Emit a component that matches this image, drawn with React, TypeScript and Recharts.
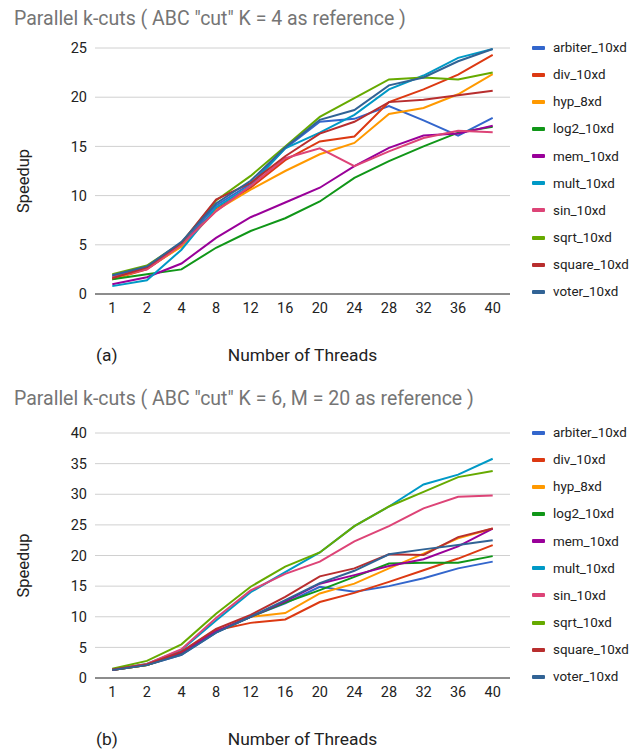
import React from 'react';
import { LineChart, Line, XAxis, YAxis, CartesianGrid, Legend } from 'recharts';

const threads = ['1', '2', '4', '8', '12', '16', '20', '24', '28', '32', '36', '40'];
const seriesNames = ['arbiter_10xd', 'div_10xd', 'hyp_8xd', 'log2_10xd', 'mem_10xd', 'mult_10xd', 'sin_10xd', 'sqrt_10xd', 'square_10xd', 'voter_10xd'];
const colors = ['#3366cc', '#dc3912', '#ff9900', '#109618', '#990099', '#0099c6', '#dd4477', '#66aa00', '#b82e2e', '#316395'];

const ticksA = [0, 5, 10, 15, 20, 25];
const ticksB = [0, 5, 10, 15, 20, 25, 30, 35, 40];

// Chart (a): K = 4
const arbiterA = [1.8, 2.7, 5.0, 9.0, 11.2, 14.8, 17.5, 17.8, 19.1, 17.65, 16.1, 17.9];
const divA = [1.5, 2.5, 4.9, 8.6, 10.8, 13.6, 15.5, 16.0, 19.5, 20.8, 22.3, 24.3];
const hypA = [1.5, 2.6, 4.8, 8.5, 10.6, 12.5, 14.2, 15.35, 18.3, 18.9, 20.3, 22.35];
const log2A = [1.5, 2.0, 2.5, 4.7, 6.4, 7.7, 9.4, 11.8, 13.5, 15.0, 16.4, 17.0];
const memA = [1.0, 1.7, 3.1, 5.7, 7.8, 9.3, 10.8, 13.0, 14.85, 16.1, 16.3, 17.1];
const multA = [0.8, 1.4, 4.5, 8.8, 11.0, 14.8, 16.4, 18.2, 20.8, 22.2, 24.0, 24.9];
const sinA = [1.7, 2.5, 5.0, 8.4, 11.0, 13.8, 14.8, 13.0, 14.5, 15.85, 16.6, 16.45];
const sqrtA = [2.0, 2.9, 5.2, 9.5, 12.0, 15.0, 18.0, 19.9, 21.8, 22.0, 21.8, 22.5];
const squareA = [1.6, 2.7, 5.2, 9.6, 11.3, 14.0, 16.3, 17.5, 19.5, 19.75, 20.2, 20.65];
const voterA = [1.9, 2.8, 5.3, 9.2, 11.5, 14.9, 17.7, 18.7, 21.2, 22.0, 23.65, 24.9];

// Chart (b): K = 6, M = 20
const arbiterB = [1.3, 2.1, 3.8, 7.4, 10.0, 12.2, 14.9, 14.1, 15.0, 16.3, 17.9, 19.0];
const divB = [1.3, 2.1, 4.0, 7.8, 9.0, 9.55, 12.4, 13.9, 15.7, 17.6, 19.5, 21.7];
const hypB = [1.3, 2.1, 4.2, 7.6, 10.0, 10.6, 13.8, 15.4, 17.9, 20.3, 22.8, 24.4];
const log2B = [1.3, 2.1, 4.0, 7.5, 10.0, 12.3, 14.35, 16.5, 18.7, 18.8, 18.8, 19.9];
const memB = [1.3, 2.2, 4.2, 7.6, 10.0, 12.5, 15.4, 16.8, 18.3, 19.4, 21.5, 24.4];
const multB = [1.4, 2.3, 4.6, 9.4, 14.0, 17.3, 20.5, 24.8, 28.0, 31.6, 33.2, 35.8];
const sinB = [1.4, 2.3, 4.7, 9.8, 14.3, 17.0, 19.0, 22.3, 24.8, 27.7, 29.6, 29.8];
const sqrtB = [1.5, 2.8, 5.5, 10.5, 14.9, 18.2, 20.5, 24.8, 28.0, 30.4, 32.8, 33.8];
const squareB = [1.4, 2.2, 4.3, 8.0, 10.3, 13.25, 16.6, 17.9, 20.2, 20.1, 23.0, 24.4];
const voterB = [1.3, 2.1, 3.8, 7.4, 10.0, 12.7, 15.5, 17.5, 20.2, 21.0, 21.7, 22.5];

const seriesA = [arbiterA, divA, hypA, log2A, memA, multA, sinA, sqrtA, squareA, voterA];
const seriesB = [arbiterB, divB, hypB, log2B, memB, multB, sinB, sqrtB, squareB, voterB];

const buildData = (series: number[][]) =>
  threads.map((t, i) => {
    const row: any = { threads: t };
    seriesNames.forEach((n, k) => {
      row[n] = series[k][i];
    });
    return row;
  });

const dataA = buildData(seriesA);
const dataB = buildData(seriesB);

const FONT = 'Roboto, "Noto Sans", Arial, sans-serif';

const LegendContent = (props: any) => {
  const payload = props.payload || [];
  return (
    <div style={{ fontFamily: FONT }}>
      {payload.map((p: any) => (
        <div key={p.value} style={{ height: 27.15, display: 'flex', alignItems: 'center' }}>
          <div style={{ width: 13, height: 4, borderRadius: 1, background: p.color, marginRight: 8 }} />
          <span style={{ fontSize: 13.4, color: '#222' }}>{p.value}</span>
        </div>
      ))}
    </div>
  );
};

const makeXLabel = (tag: string) => (props: any) => {
  const vb = props.viewBox || {};
  const cx = vb.x + vb.width / 2;
  const y = vb.y + 67;
  return (
    <g>
      <text x={cx} y={y} textAnchor="middle" fontSize={17.4} fill="#222" fontFamily={FONT}>
        Number of Threads
      </text>
      <text x={96} y={y} textAnchor="start" fontSize={17.4} fill="#222" fontFamily={FONT}>
        {tag}
      </text>
    </g>
  );
};

const makeYLabel = () => (props: any) => {
  const vb = props.viewBox || {};
  const cy = vb.y + vb.height / 2 + 10;
  return (
    <text
      x={23}
      y={cy}
      transform={`rotate(-90 23 ${cy})`}
      textAnchor="middle"
      dominantBaseline="central"
      fontSize={16.5}
      fill="#222"
      fontFamily={FONT}
    >
      Speedup
    </text>
  );
};

const Panel = ({ data, ticks, max, tag, height, top, bottom }: any) => (
  <LineChart
    width={644}
    height={height}
    data={data}
    margin={{ top, left: 0, right: 134, bottom }}
  >
    <CartesianGrid horizontal vertical={false} stroke="#d0d0d0" />
    <XAxis
      dataKey="threads"
      height={70}
      padding={{ left: 17.3, right: 17.3 }}
      tickLine={false}
      tickSize={0}
      tickMargin={9}
      axisLine={{ stroke: '#333', strokeWidth: 1.2 }}
      tick={{ fontSize: 14.5, fill: '#222', fontFamily: FONT }}
      interval={0}
      label={{ content: makeXLabel(tag) }}
    />
    <YAxis
      width={95}
      domain={[0, max]}
      ticks={ticks}
      axisLine={false}
      tickLine={false}
      tickSize={0}
      tickMargin={8}
      tick={{ fontSize: 14.5, fill: '#222', fontFamily: FONT }}
      label={{ content: makeYLabel() }}
    />
    <Legend
      layout="vertical"
      align="center"
      verticalAlign="middle"
      content={LegendContent}
      wrapperStyle={{ left: 532, top: top - 14, width: 112 }}
    />
    {seriesNames.map((n, k) => (
      <Line
        key={n}
        dataKey={n}
        name={n}
        stroke={colors[k]}
        strokeWidth={2}
        dot={false}
        activeDot={false}
        type="linear"
        isAnimationActive={false}
      />
    ))}
  </LineChart>
);

export default function App() {
  return (
    <div style={{ position: 'absolute', left: 0, top: 0, width: 644, height: 754, background: '#fff', fontFamily: FONT }}>
      <div style={{ position: 'absolute', left: 14, top: 7, fontSize: 19.5, color: '#757575', whiteSpace: 'nowrap' }}>
        Parallel k-cuts ( ABC "cut" K = 4 as reference )
      </div>
      <div style={{ position: 'absolute', left: 0, top: 0 }}>
        <Panel data={dataA} ticks={ticksA} max={25} tag="(a)" height={380} top={48} bottom={16} />
      </div>
      <div style={{ position: 'absolute', left: 14, top: 387, fontSize: 19.5, color: '#757575', whiteSpace: 'nowrap' }}>
        Parallel k-cuts ( ABC "cut" K = 6, M = 20 as reference )
      </div>
      <div style={{ position: 'absolute', left: 0, top: 380 }}>
        <Panel data={dataB} ticks={ticksB} max={40} tag="(b)" height={374} top={53} bottom={6} />
      </div>
    </div>
  );
}
